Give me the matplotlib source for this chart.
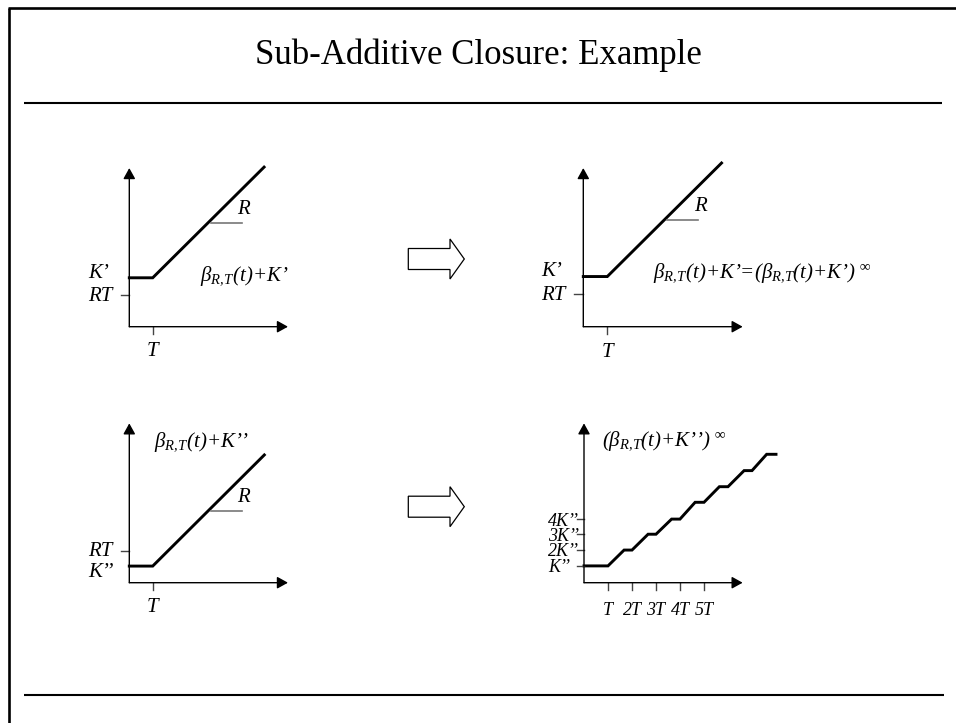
import matplotlib
matplotlib.use('Agg')
import matplotlib.pyplot as plt
from matplotlib.patches import Polygon

plt.rcParams['font.family'] = ['Liberation Serif', 'DejaVu Serif']
plt.rcParams['mathtext.fontset'] = 'custom'
plt.rcParams['mathtext.it'] = 'Liberation Serif:italic'
plt.rcParams['mathtext.rm'] = 'Liberation Serif:italic'
plt.rcParams['mathtext.bf'] = 'Liberation Serif:bold'

W, H = 956, 723

# ---------------- data ----------------
title = "Sub-Additive Closure: Example"

# beta_{R,T}(t)+K'  (K' > RT)
top_t = [0, 1, 5.76]
top_v = [2.09, 2.09, 6.82]
top_rt = 1.35
top_r_y = 4.44
r_mark_x = [3.49, 4.8]

# beta_{R,T}(t)+K''  (K'' < RT)
bot_t = [0, 1, 5.77]
bot_v = [0.71, 0.71, 5.46]
bot_rt = 1.35
bot_r_y = 3.08

# (beta_{R,T}(t)+K'')^inf  staircase
clos_t = [0, 1.0, 1.67, 2.0, 2.67, 3.0, 3.65, 4.0, 4.63, 5.0, 5.64, 6.0, 6.67, 7.0, 7.61, 8.0]
clos_v = [0.70, 0.70, 1.36, 1.36, 2.02, 2.02, 2.65, 2.65, 3.35, 3.35, 4.0, 4.0, 4.67, 4.67, 5.35, 5.35]
clos_xticks = [1, 2, 3, 4, 5]
clos_xlabels = ['T', '2T', '3T', '4T', '5T']
clos_yticks = [0.70, 1.36, 2.02, 2.65]
clos_ylabels = ['K’’', '2K’’', '3K’’', '4K’’']

B = r'$\beta_{R,\!T}$'
lbl_top_left = B + '(t)+K’'
lbl_top_right = B + '(t)+K’=(' + B + r'(t)+K’) $^{\infty}$'
lbl_bot_left = B + '(t)+K’’'
lbl_bot_right = '(' + B + r'(t)+K’’) $^{\infty}$'

# ---------------- figure ----------------
fig = plt.figure(figsize=(W / 100, H / 100), dpi=100)
bg = fig.add_axes([0, 0, 1, 1])
bg.set_xlim(0, W)
bg.set_ylim(H, 0)
bg.axis('off')

# slide frame and rules
bg.plot([9, 9], [8, H], color='black', lw=1.9, solid_capstyle='butt')
bg.plot([8, W], [8, 8], color='black', lw=1.9, solid_capstyle='butt')
bg.plot([24, 942], [103, 103], color='black', lw=1.5, solid_capstyle='butt')
bg.plot([24, 944], [695, 695], color='black', lw=1.5, solid_capstyle='butt')
bg.text(478, 64, title, ha='center', va='baseline', fontsize=25,
        family='Liberation Serif')

# block arrows
def block_arrow(x0, x1, xt, yc, hb, hh):
    pts = [(x0, yc - hb), (x1, yc - hb), (x1, yc - hh), (xt, yc),
           (x1, yc + hh), (x1, yc + hb), (x0, yc + hb)]
    bg.add_patch(Polygon(pts, closed=True, facecolor='white',
                         edgecolor='black', lw=0.9))

block_arrow(408.3, 450, 464.3, 259, 10.5, 20)
block_arrow(408.3, 450, 464.3, 506.7, 10.5, 20)

TXT = dict(fontsize=15, style='italic', family='Liberation Serif')
TXT_S = dict(fontsize=13, style='italic', family='Liberation Serif')


def panel(ox, oy, u):
    ax = fig.add_axes([(ox - 3 * u) / W, (H - oy - 2 * u) / H, 11 * u / W, 10 * u / H])
    ax.set_xlim(-3, 8)
    ax.set_ylim(-2, 8)
    ax.axis('off')
    return ax


def axis_arrows(ax, xtip, ytip):
    kw = dict(arrowstyle='-|>,head_length=0.65,head_width=0.36', color='black',
              lw=1.0, shrinkA=0, shrinkB=0, mutation_scale=10)
    ax.annotate('', xy=(xtip, 0), xytext=(0, 0), arrowprops=kw)
    ax.annotate('', xy=(0, ytip), xytext=(0, 0), arrowprops=kw)


def linear_panel(ax, t, v, rt, ry, klabel, ky, rty, xtip, ytip):
    axis_arrows(ax, xtip, ytip)
    ax.plot(t, v, color='black', lw=2.1, solid_joinstyle='miter', clip_on=False)
    ax.plot(r_mark_x, [ry, ry], color='#777777', lw=1.2, clip_on=False)
    ax.text(r_mark_x[1] - 0.18, ry + 0.55, 'R', ha='left', va='center', **TXT)
    ax.plot([1, 1], [0, -0.32], color='#444444', lw=1.0, clip_on=False)
    ax.plot([-0.37, 0], [rt, rt], color='#444444', lw=1.0, clip_on=False)
    ax.text(1, -1.07, 'T', ha='center', va='center', **TXT)
    ax.text(-1.76, ky, klabel, ha='left', va='center', **TXT)
    ax.text(-1.76, rty, 'RT', ha='left', va='center', **TXT)


# panel 1 (top-left)
a1 = panel(129.3, 326.7, 23.4)
linear_panel(a1, top_t, top_v, top_rt, top_r_y, 'K’', 2.29, 1.28, 6.78, 6.78)
a1.text(3.02, 2.14, lbl_top_left, ha='left', va='center', **TXT)

# panel 2 (top-right)
a2 = panel(583.3, 326.7, 24)
linear_panel(a2, top_t, top_v, top_rt, top_r_y, 'K’', 2.29, 1.28, 6.64, 6.61)
a2.text(2.9, 2.24, lbl_top_right, ha='left', va='center', **TXT)

# panel 3 (bottom-left)
a3 = panel(129.3, 582.7, 23.4)
linear_panel(a3, bot_t, bot_v, bot_rt, bot_r_y, 'K’’', 0.42, 1.35, 6.78, 6.81)
a3.text(1.06, 6.0, lbl_bot_left, ha='left', va='center', **TXT)

# panel 4 (bottom-right)
a4 = panel(584, 582.7, 24)
axis_arrows(a4, 6.61, 6.64)
a4.plot(clos_t, clos_v, color='black', lw=2.1, solid_joinstyle='miter', clip_on=False)
for xt, lab in zip(clos_xticks, clos_xlabels):
    a4.plot([xt, xt], [0, -0.32], color='#444444', lw=1.0, clip_on=False)
    a4.text(xt, -1.14, lab, ha='center', va='center', **TXT_S)
for yt, lab in zip(clos_yticks, clos_ylabels):
    a4.plot([-0.3, 0], [yt, yt], color='#444444', lw=1.0, clip_on=False)
    a4.text(-1.5, yt - 0.08, lab, ha='left', va='center', **TXT_S)
a4.text(0.74, 5.88, lbl_bot_right, ha='left', va='center', **TXT)

fig.savefig('out.png', dpi=100)
